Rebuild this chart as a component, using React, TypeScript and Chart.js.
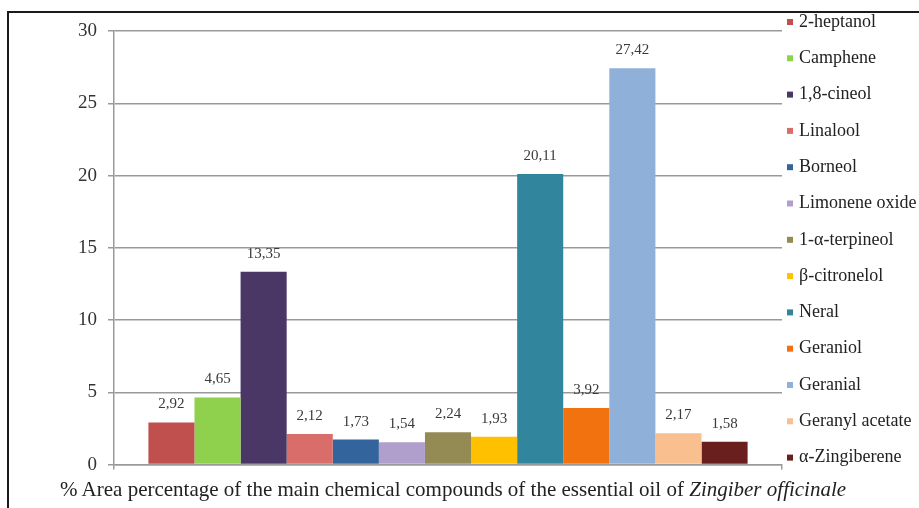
import React, { useEffect, useRef } from "react";
import { Chart, registerables } from "chart.js";

Chart.register(...registerables);

const compounds = [
  "2-heptanol",
  "Camphene",
  "1,8-cineol",
  "Linalool",
  "Borneol",
  "Limonene oxide",
  "1-α-terpineol",
  "β-citronelol",
  "Neral",
  "Geraniol",
  "Geranial",
  "Geranyl acetate",
  "α-Zingiberene",
];
const areaPercent = [2.92, 4.65, 13.35, 2.12, 1.73, 1.54, 2.24, 1.93, 20.11, 3.92, 27.42, 2.17, 1.58];
const barColors = [
  "#C0504D",
  "#8FD04C",
  "#4A3766",
  "#D86D6A",
  "#33659C",
  "#B09FCC",
  "#948A54",
  "#FFC000",
  "#31869E",
  "#F2720F",
  "#8FB0D8",
  "#F9BF8F",
  "#6A1F1F",
];
const categories = [""];
const yTicks = [0, 5, 10, 15, 20, 25, 30];

const SERIF = '"Liberation Serif", "Times New Roman", serif';

const valueLabelPlugin = {
  id: "valueLabels",
  afterDatasetsDraw(chart: any) {
    const ctx = chart.ctx;
    ctx.save();
    ctx.font = `15px ${SERIF}`;
    ctx.fillStyle = "#3a3a3a";
    ctx.textAlign = "center";
    ctx.textBaseline = "middle";
    chart.data.datasets.forEach((ds: any, i: number) => {
      const meta = chart.getDatasetMeta(i);
      const bar = meta.data[0];
      if (!bar) return;
      const v = ds.data[0] as number;
      ctx.fillText(v.toFixed(2).replace(".", ","), bar.x, bar.y - 18);
    });
    ctx.restore();
  },
};

const sideLegendPlugin = {
  id: "sideLegend",
  afterDraw(chart: any) {
    const ctx = chart.ctx;
    const area = chart.chartArea;
    const firstY = area.top - 9;
    const lastY = area.bottom - 7;
    const n = chart.data.datasets.length;
    const step = (lastY - firstY) / (n - 1);
    const boxX = area.right + 5;
    ctx.save();
    ctx.font = `18px ${SERIF}`;
    ctx.textBaseline = "middle";
    ctx.textAlign = "left";
    chart.data.datasets.forEach((ds: any, i: number) => {
      const y = firstY + i * step;
      ctx.fillStyle = ds.backgroundColor;
      ctx.fillRect(boxX, y - 3, 6, 6);
      ctx.fillStyle = "#222";
      ctx.fillText(ds.label, boxX + 12, y);
    });
    ctx.restore();
  },
};

export default function App() {
  const canvasRef = useRef<HTMLCanvasElement | null>(null);

  useEffect(() => {
    if (!canvasRef.current) return;
    const chart = new Chart(canvasRef.current, {
      type: "bar",
      data: {
        labels: categories,
        datasets: compounds.map((name, i) => ({
          label: name,
          data: [areaPercent[i]],
          backgroundColor: barColors[i],
          borderWidth: 0,
          categoryPercentage: 0.897,
          barPercentage: 1,
        })),
      },
      options: {
        animation: false,
        responsive: false,
        maintainAspectRatio: false,
        layout: { padding: { left: 0, right: 137, top: 31, bottom: 0 } },
        plugins: {
          legend: { display: false },
          tooltip: { enabled: false },
          title: { display: false },
        },
        scales: {
          x: {
            offset: true,
            grid: {
              display: true,
              drawOnChartArea: false,
              drawTicks: true,
              tickLength: 5,
              color: "#999",
              lineWidth: 1.5,
              offset: true,
            },
            border: { display: true, color: "#999", width: 1.5 },
            ticks: { display: false },
            afterFit(scale: any) {
              scale.height = 13;
            },
          },
          y: {
            min: 0,
            max: 30,
            afterBuildTicks(scale: any) {
              scale.ticks = yTicks.map((v) => ({ value: v }));
            },
            grid: {
              color: "#999",
              lineWidth: 1.5,
              drawTicks: true,
              tickLength: 6,
            },
            border: { display: true, color: "#999", width: 1.5 },
            ticks: {
              padding: 11,
              color: "#333",
              font: { family: SERIF, size: 19 },
            },
            afterFit(scale: any) {
              scale.width = 114;
            },
          },
        },
      },
      plugins: [valueLabelPlugin, sideLegendPlugin],
    });
    return () => chart.destroy();
  }, []);

  return (
    <div
      style={{
        position: "fixed",
        left: 0,
        top: 0,
        width: 919,
        height: 508,
        overflow: "hidden",
        background: "#fff",
      }}
    >
      <div
        style={{
          position: "absolute",
          left: 7,
          top: 11,
          width: 1000,
          height: 600,
          border: "2px solid #1a1a1a",
          boxSizing: "border-box",
        }}
      />
      <canvas
        ref={canvasRef}
        width={919}
        height={487}
        style={{ position: "absolute", left: 0, top: 0, width: 919, height: 487 }}
      />
      <div
        style={{
          position: "absolute",
          left: 60,
          top: 477,
          font: `21px ${SERIF}`,
          lineHeight: "24px",
          color: "#222",
          whiteSpace: "nowrap",
        }}
      >
        % Area percentage of the main chemical compounds of the essential oil of{" "}
        <i>Zingiber officinale</i>
      </div>
    </div>
  );
}
